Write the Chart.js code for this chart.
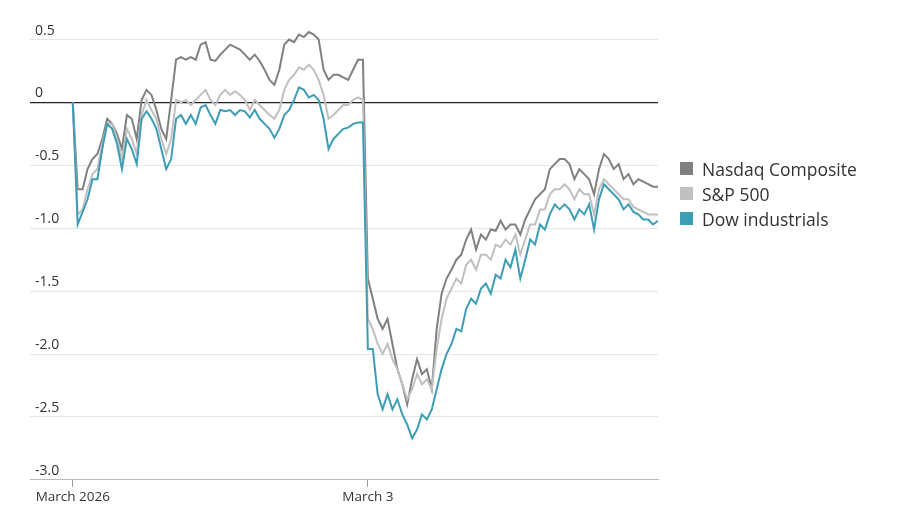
<!DOCTYPE html>
<html><head><meta charset="utf-8">
<script src="https://cdn.jsdelivr.net/npm/chart.js@4"></script>
<style>
body{margin:0;background:#fff;font-family:"Open Sans",sans-serif;}
#wrap{position:relative;width:900px;height:510px;}
#legend{position:absolute;left:680px;top:156px;font-size:17.5px;color:#333;}
#legend div{display:flex;align-items:center;height:25px;}
#legend span{display:inline-block;width:13px;height:13px;margin-right:9px;}
</style></head><body>
<div id="wrap"><canvas id="c" width="900" height="510"></canvas>
<div id="legend"></div></div>
<script>
const seriesNames=["Nasdaq Composite","S&P 500","Dow industrials"];
const colors=["#808080","#c0c0c0","#3d9db5"];
const dayLabels=["March 2026","March 3"];
const yTicks=[0.5,0,-0.5,-1.0,-1.5,-2.0,-2.5,-3.0];
const nasdaqDay1=[0,-0.69,-0.69,-0.53,-0.45,-0.41,-0.29,-0.13,-0.17,-0.25,-0.37,-0.10,-0.13,-0.29,0.02,0.10,0.06,-0.06,-0.21,-0.29,0.02,0.34,0.36,0.34,0.36,0.34,0.46,0.48,0.34,0.33,0.38,0.42,0.46,0.44,0.42,0.38,0.34,0.38,0.33,0.26,0.18,0.14,0.26,0.46,0.50,0.48,0.54,0.52,0.56,0.54,0.50,0.26,0.18,0.22,0.22,0.20,0.18,0.26,0.34,0.34];
const nasdaqDay2=[-1.40,-1.56,-1.72,-1.80,-1.72,-1.92,-2.12,-2.24,-2.40,-2.20,-2.04,-2.16,-2.12,-2.28,-1.80,-1.52,-1.40,-1.33,-1.25,-1.21,-1.09,-1.01,-1.17,-1.05,-1.09,-1.01,-1.02,-0.94,-1.01,-0.97,-0.97,-1.05,-0.93,-0.85,-0.77,-0.73,-0.69,-0.53,-0.49,-0.45,-0.45,-0.49,-0.61,-0.53,-0.57,-0.61,-0.73,-0.53,-0.41,-0.45,-0.53,-0.49,-0.61,-0.57,-0.65,-0.61,-0.63,-0.65,-0.67,-0.67];
const spDay1=[0,-0.89,-0.85,-0.69,-0.57,-0.53,-0.33,-0.17,-0.17,-0.29,-0.45,-0.21,-0.29,-0.41,-0.10,0.02,-0.06,-0.13,-0.29,-0.41,-0.29,0.02,0,0.02,-0.02,0.02,0.06,0.10,0.02,-0.02,0.06,0.10,0.06,0.09,0.06,0.02,-0.06,0.02,-0.02,-0.06,-0.10,-0.13,-0.06,0.10,0.18,0.22,0.28,0.26,0.30,0.26,0.18,0.06,-0.13,-0.10,-0.06,-0.02,-0.02,0.02,0.04,0.02];
const spDay2=[-1.72,-1.80,-1.92,-2.00,-1.92,-2.04,-2.12,-2.24,-2.36,-2.28,-2.16,-2.24,-2.20,-2.28,-1.96,-1.72,-1.56,-1.48,-1.40,-1.44,-1.29,-1.25,-1.33,-1.21,-1.21,-1.25,-1.13,-1.15,-1.09,-1.13,-1.05,-1.21,-1.09,-0.97,-0.97,-0.85,-0.85,-0.73,-0.69,-0.69,-0.65,-0.69,-0.77,-0.69,-0.73,-0.73,-0.89,-0.69,-0.61,-0.65,-0.69,-0.73,-0.77,-0.77,-0.83,-0.85,-0.87,-0.89,-0.89,-0.89];
const dowDay1=[0,-0.97,-0.87,-0.77,-0.61,-0.61,-0.37,-0.17,-0.21,-0.33,-0.53,-0.29,-0.37,-0.49,-0.13,-0.07,-0.13,-0.21,-0.37,-0.53,-0.45,-0.13,-0.10,-0.17,-0.10,-0.17,-0.04,-0.02,-0.10,-0.17,-0.06,-0.07,-0.06,-0.10,-0.06,-0.07,-0.12,-0.06,-0.13,-0.17,-0.21,-0.28,-0.21,-0.10,-0.06,0.02,0.12,0.10,0.04,0.06,0.02,-0.13,-0.37,-0.29,-0.25,-0.21,-0.20,-0.17,-0.16,-0.16];
const dowDay2=[-1.96,-1.96,-2.32,-2.44,-2.32,-2.44,-2.36,-2.48,-2.56,-2.67,-2.60,-2.48,-2.52,-2.44,-2.28,-2.12,-2.00,-1.92,-1.80,-1.82,-1.64,-1.56,-1.60,-1.48,-1.44,-1.52,-1.37,-1.40,-1.25,-1.31,-1.17,-1.40,-1.25,-1.09,-1.13,-0.97,-1.01,-0.89,-0.81,-0.85,-0.81,-0.85,-0.93,-0.85,-0.89,-0.81,-1.01,-0.77,-0.65,-0.69,-0.73,-0.77,-0.85,-0.81,-0.87,-0.89,-0.93,-0.93,-0.97,-0.94];

const day2Start=60;
function pts(d1,d2){return d1.map((v,i)=>({x:i,y:v})).concat(d2.map((v,i)=>({x:day2Start+i,y:v})));}
const all=[pts(nasdaqDay1,nasdaqDay2),pts(spDay1,spDay2),pts(dowDay1,dowDay2)];
const ds=all.map((d,i)=>({label:seriesNames[i],data:d,borderColor:colors[i],borderWidth:2,pointRadius:0,tension:0,order:3-i}));

document.getElementById('legend').innerHTML=seriesNames.map((n,i)=>`<div><span style="background:${colors[i]}"></span>${n}</div>`).join('');

new Chart(document.getElementById('c'),{
 type:'line',
 data:{datasets:ds},
 options:{
  responsive:false,animation:false,
  layout:{padding:{left:20,right:242,top:27,bottom:3}},
  plugins:{legend:{display:false},tooltip:{enabled:false}},
  scales:{
   x:{type:'linear',min:-8.7,max:119,
     afterBuildTicks:s=>{s.ticks=[{value:0},{value:day2Start}];},
     ticks:{callback:v=>v===0?dayLabels[0]:dayLabels[1],color:'#333',font:{family:'Open Sans',size:13.5},maxRotation:0,padding:2},
     grid:{drawOnChartArea:false,tickLength:7,color:'#999'},
     border:{color:'#bbb'}},
   y:{min:-3,max:0.6,
     afterBuildTicks:s=>{s.ticks=yTicks.map(v=>({value:v}));},
     ticks:{mirror:true,labelOffset:-9,padding:5,color:'#333',font:{family:'Open Sans',size:14},callback:v=>v===0?'0':v.toFixed(1)},
     grid:{color:c=>c.tick&&c.tick.value===0?'#222':'#e6e6e6',lineWidth:c=>c.tick&&c.tick.value===0?1.3:1,drawTicks:false},
     border:{display:false}}
  }
 }
});
</script></body></html>
